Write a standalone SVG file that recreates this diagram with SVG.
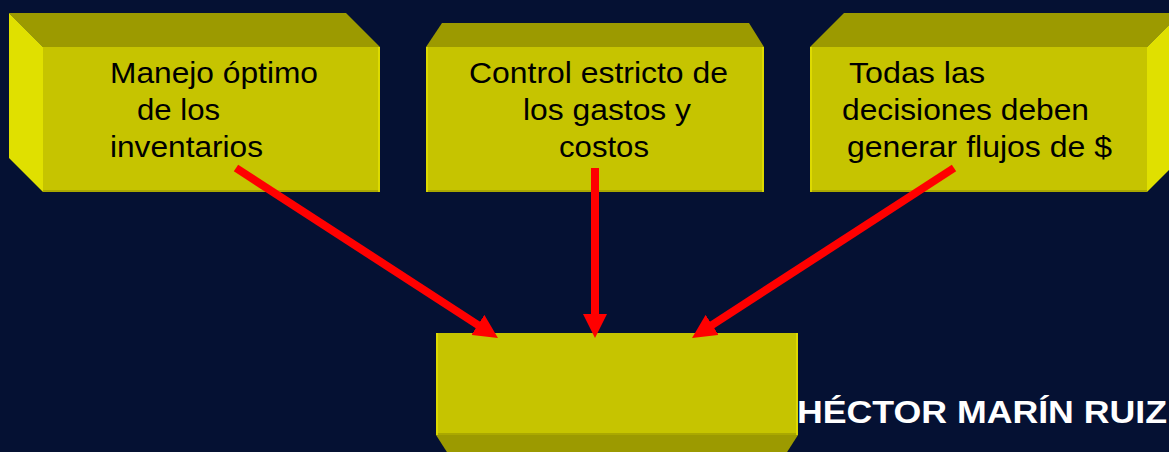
<svg xmlns="http://www.w3.org/2000/svg" width="1169" height="452" viewBox="0 0 1169 452">
<style>
.front{fill:#C6C400}
.top{fill:#9C9A00}
.side{fill:#E0E000}
.edge{fill:none;stroke:#E4E200;stroke-width:1.5}
.shade{fill:none;stroke:#AAA800;stroke-width:2}
.lbl{font-family:"Liberation Sans",Arial,sans-serif;font-size:30px;fill:#000}
.footer{font-family:"Liberation Sans",Arial,sans-serif;font-size:31px;font-weight:bold;fill:#fff}
.arrow{stroke:#FF0000;stroke-width:8;fill:none;marker-end:url(#head)}
</style>
<defs>
<marker id="head" viewBox="0 0 3 3" markerWidth="3" markerHeight="3" refX="0.25" refY="1.5" orient="auto" markerUnits="strokeWidth">
<path d="M0,0 L3,1.5 L0,3 Z" fill="#FF0000"/>
</marker>
</defs>
<rect width="1169" height="452" fill="#051133"/>
<g id="node1">
<polygon class="top" points="9,13 346,13 380,47 43,47"/>
<polygon class="side" points="9,13 43,47 43,192 9,158"/>
<rect class="front" x="43" y="47" width="337" height="145"/>
<line class="shade" x1="43" y1="191" x2="380" y2="191"/>
<line class="edge" x1="379" y1="47" x2="379" y2="192"/>
<text class="lbl" x="110" y="83" textLength="208" lengthAdjust="spacingAndGlyphs">Manejo óptimo</text>
<text class="lbl" x="137" y="120" textLength="83" lengthAdjust="spacingAndGlyphs">de los</text>
<text class="lbl" x="110" y="157" textLength="153" lengthAdjust="spacingAndGlyphs">inventarios</text>
</g>
<g id="node2">
<polygon class="top" points="442,23 749,23 764,47 426,47"/>
<rect class="front" x="426" y="47" width="338" height="145"/>
<line class="shade" x1="426" y1="191" x2="764" y2="191"/>
<line class="edge" x1="427" y1="47" x2="427" y2="192"/>
<line class="edge" x1="763" y1="47" x2="763" y2="192"/>
<text class="lbl" x="469" y="83" textLength="259" lengthAdjust="spacingAndGlyphs">Control estricto de</text>
<text class="lbl" x="523" y="120" textLength="168" lengthAdjust="spacingAndGlyphs">los gastos y</text>
<text class="lbl" x="559" y="157" textLength="90" lengthAdjust="spacingAndGlyphs">costos</text>
</g>
<g id="node3">
<polygon class="top" points="844,13 1181,13 1147,47 810,47"/>
<polygon class="side" points="1147,47 1181,13 1181,158 1147,192"/>
<rect class="front" x="810" y="47" width="337" height="145"/>
<line class="shade" x1="810" y1="191" x2="1147" y2="191"/>
<line class="edge" x1="811" y1="47" x2="811" y2="192"/>
<text class="lbl" x="849" y="83" textLength="136" lengthAdjust="spacingAndGlyphs">Todas las</text>
<text class="lbl" x="842" y="120" textLength="247" lengthAdjust="spacingAndGlyphs">decisiones deben</text>
<text class="lbl" x="847" y="157" textLength="265" lengthAdjust="spacingAndGlyphs">generar flujos de $</text>
</g>
<g id="node4">
<polygon class="top" points="436,435 798,435 782,460 452,460"/>
<rect class="front" x="436" y="333" width="362" height="102"/>
<line class="shade" x1="436" y1="434" x2="798" y2="434"/>
<line class="edge" x1="437" y1="333" x2="437" y2="435"/>
<line class="edge" x1="797" y1="333" x2="797" y2="435"/>
</g>
<g id="connectors">
<line class="arrow" x1="236" y1="168" x2="479.5" y2="326"/>
<line class="arrow" x1="595" y1="168" x2="595" y2="316"/>
<line class="arrow" x1="954" y1="168" x2="710.5" y2="326"/>
</g>
<text class="footer" x="797" y="423" textLength="370" lengthAdjust="spacingAndGlyphs">HÉCTOR MARÍN RUIZ</text>
</svg>
